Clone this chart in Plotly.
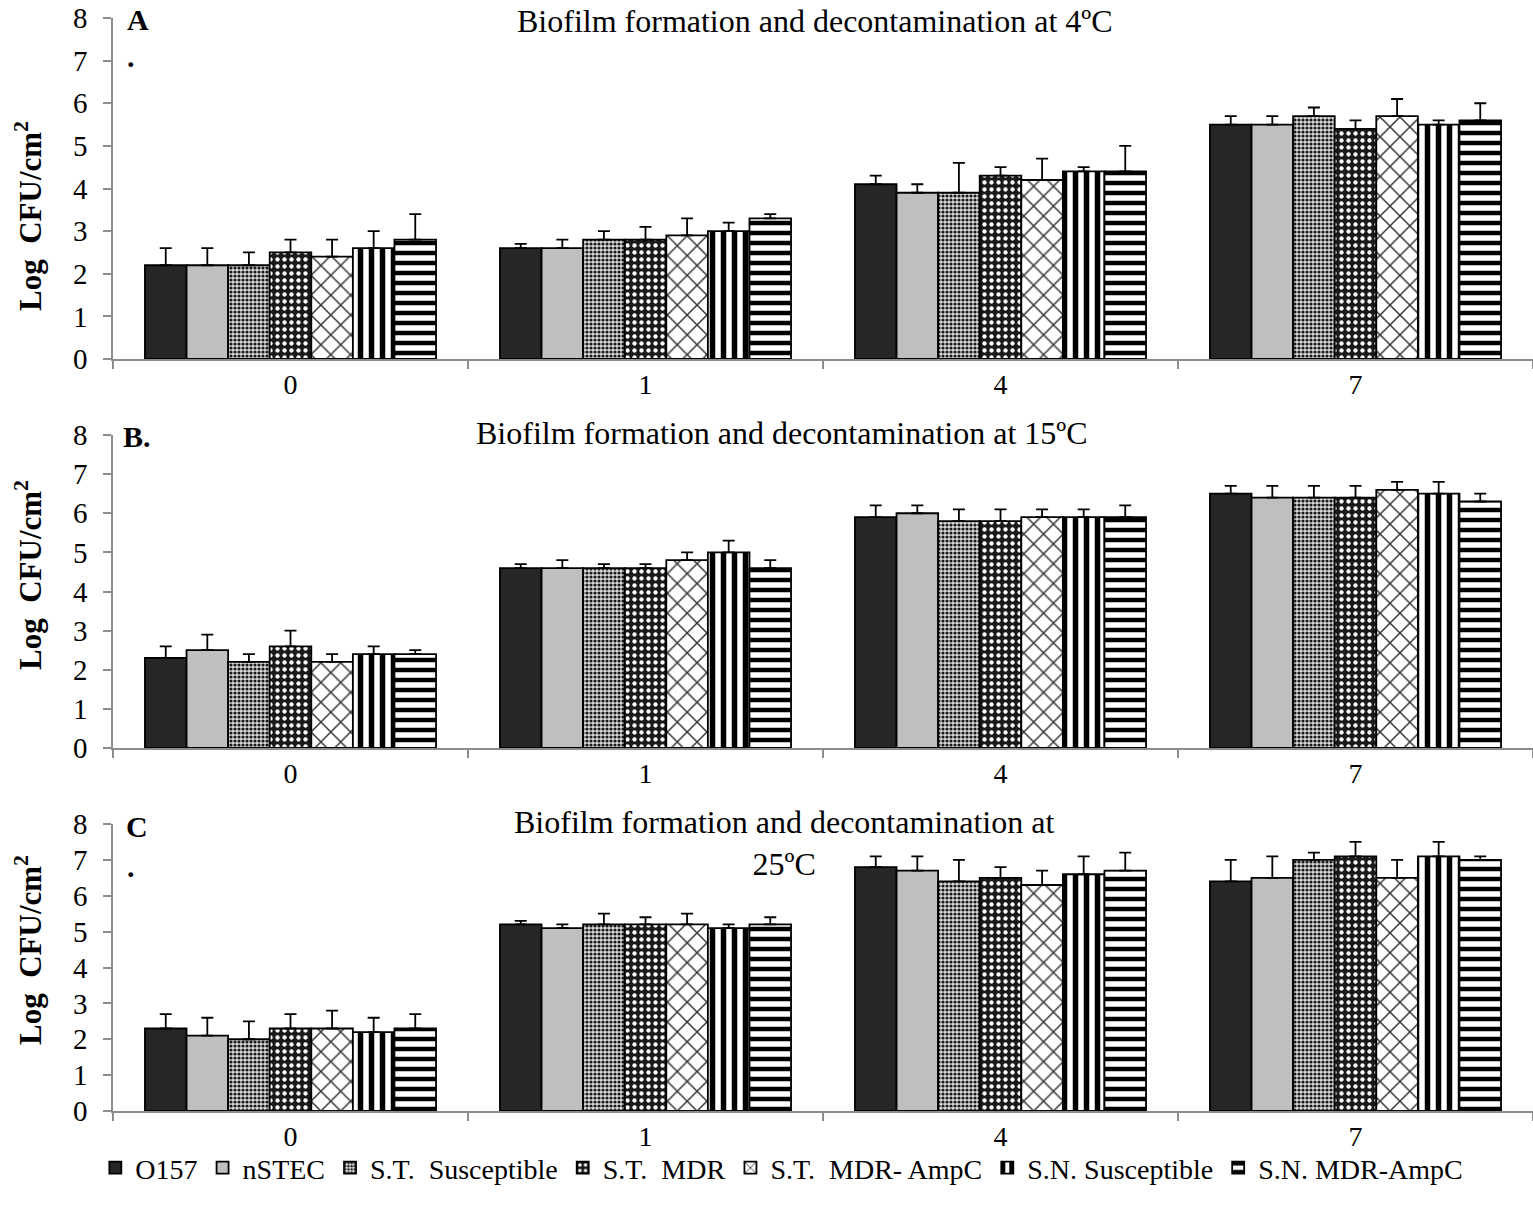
import plotly.graph_objects as go

W, H = 1533, 1217

days = ["0", "1", "4", "7"]
series = ["O157", "nSTEC", "S.T.  Susceptible", "S.T.  MDR", "S.T.  MDR- AmpC",
          "S.N. Susceptible", "S.N. MDR-AmpC"]

# Panel A: 4 C  (one list per strain, values for days 0,1,4,7)
mean_4C = [[2.2, 2.6, 4.1, 5.5], [2.2, 2.6, 3.9, 5.5], [2.2, 2.8, 3.9, 5.7], [2.5, 2.8, 4.3, 5.4],
           [2.4, 2.9, 4.2, 5.7], [2.6, 3.0, 4.4, 5.5], [2.8, 3.3, 4.4, 5.6]]
err_4C = [[0.4, 0.1, 0.2, 0.2], [0.4, 0.2, 0.2, 0.2], [0.3, 0.2, 0.7, 0.2], [0.3, 0.3, 0.2, 0.2],
          [0.4, 0.4, 0.5, 0.4], [0.4, 0.2, 0.1, 0.1], [0.6, 0.1, 0.6, 0.4]]
# Panel B: 15 C
mean_15C = [[2.3, 4.6, 5.9, 6.5], [2.5, 4.6, 6.0, 6.4], [2.2, 4.6, 5.8, 6.4], [2.6, 4.6, 5.8, 6.4],
            [2.2, 4.8, 5.9, 6.6], [2.4, 5.0, 5.9, 6.5], [2.4, 4.6, 5.9, 6.3]]
err_15C = [[0.3, 0.1, 0.3, 0.2], [0.4, 0.2, 0.2, 0.3], [0.2, 0.1, 0.3, 0.3], [0.4, 0.1, 0.3, 0.3],
           [0.2, 0.2, 0.2, 0.2], [0.2, 0.3, 0.2, 0.3], [0.1, 0.2, 0.3, 0.2]]
# Panel C: 25 C
mean_25C = [[2.3, 5.2, 6.8, 6.4], [2.1, 5.1, 6.7, 6.5], [2.0, 5.2, 6.4, 7.0], [2.3, 5.2, 6.5, 7.1],
            [2.3, 5.2, 6.3, 6.5], [2.2, 5.1, 6.6, 7.1], [2.3, 5.2, 6.7, 7.0]]
err_25C = [[0.4, 0.1, 0.3, 0.6], [0.5, 0.1, 0.4, 0.6], [0.5, 0.3, 0.6, 0.2], [0.4, 0.2, 0.3, 0.4],
           [0.5, 0.3, 0.4, 0.5], [0.4, 0.1, 0.5, 0.4], [0.4, 0.2, 0.5, 0.1]]

titles = ["Biofilm formation and decontamination at 4ºC",
          "Biofilm formation and decontamination at 15ºC",
          "Biofilm formation and decontamination at<br>25ºC"]
panel_labels = ["A", "B.", "C"]

FONT = "Liberation Serif, Times New Roman, serif"

styles = [
    dict(color="#262626"),
    dict(color="#bfbfbf"),
    dict(color="#8c8c8c", pattern=dict(shape=".", fgcolor="#1a1a1a", bgcolor="#d9d9d9", size=4, solidity=0.5, fillmode="replace")),
    dict(color="#303030", pattern=dict(shape=".", fgcolor="#ffffff", bgcolor="#1a1a1a", size=7, solidity=0.3, fillmode="replace")),
    dict(color="#ffffff", pattern=dict(shape="x", fgcolor="#333333", bgcolor="#ffffff", size=14, solidity=0.2, fillmode="replace")),
    dict(color="#ffffff", pattern=dict(shape="|", fgcolor="#000000", bgcolor="#ffffff", size=11, solidity=0.5, fillmode="replace")),
    dict(color="#ffffff", pattern=dict(shape="-", fgcolor="#000000", bgcolor="#ffffff", size=10, solidity=0.45, fillmode="replace")),
]


def px(x):
    return x / W


def py(y):
    return 1 - y / H


# plot-area pixel geometry: (top of y=8, y=0 baseline)
panels = [(18, 359), (435, 748), (824, 1111)]
data_sets = [(mean_4C, err_4C), (mean_15C, err_15C), (mean_25C, err_25C)]

fig = go.Figure()
for p, (means, errs) in enumerate(data_sets):
    xa = "x" if p == 0 else f"x{p+1}"
    ya = "y" if p == 0 else f"y{p+1}"
    for s, name in enumerate(series):
        marker = dict(styles[s])
        marker["line"] = dict(color="black", width=1.8)
        fig.add_trace(go.Bar(
            x=days, y=means[s], name=name, legendgroup=name, showlegend=(p == 0),
            marker=marker, xaxis=xa, yaxis=ya,
            error_y=dict(type="data", array=errs[s], arrayminus=[0] * len(days), symmetric=False,
                         color="black", thickness=1.8, width=6),
        ))

layout = dict(
    width=W, height=H, margin=dict(l=0, r=0, t=0, b=0, autoexpand=False),
    paper_bgcolor="white", plot_bgcolor="white",
    barmode="group", bargap=0.18, bargroupgap=0,
    font=dict(family=FONT, size=28, color="black"),
    legend=dict(orientation="h", x=0.51, xanchor="center", y=py(1168), yanchor="middle",
                font=dict(family=FONT, size=28, color="black"), itemwidth=30,
                bgcolor="rgba(0,0,0,0)", traceorder="normal"),
)

annotations = []
for p, (top, base) in enumerate(panels):
    sx = "" if p == 0 else str(p + 1)
    layout["xaxis" + sx] = dict(
        domain=[px(113), 1.0], anchor="y" + sx, type="category",
        showline=True, linecolor="#8c8c8c", linewidth=1.5,
        ticks="outside", tickson="boundaries", ticklen=8, tickcolor="#8c8c8c", tickwidth=1.5,
        showgrid=False, zeroline=False, tickfont=dict(size=28, family=FONT, color="black"),
    )
    layout["yaxis" + sx] = dict(
        domain=[py(base), py(top)], anchor="x" + sx, range=[0, 8], dtick=1,
        showline=True, linecolor="#8c8c8c", linewidth=1.5,
        ticks="outside", ticklen=8, tickcolor="#8c8c8c", tickwidth=1.5,
        showgrid=False, zeroline=False, ticklabelstandoff=10,
        tickfont=dict(size=29, family=FONT, color="black"),
    )

# y-axis titles
for yc in [216, 575, 950]:
    annotations.append(dict(xref="paper", yref="paper", x=px(28), y=py(yc), showarrow=False,
                            text="<b>Log  CFU/cm<sup>2</sup></b>", textangle=-90,
                            font=dict(size=31, family=FONT, color="black"),
                            xanchor="center", yanchor="middle"))
# panel letters
for (lx, ly), lab in zip([(138, 19), (137, 437), (137, 826)], panel_labels):
    annotations.append(dict(xref="paper", yref="paper", x=px(lx), y=py(ly), showarrow=False,
                            text=f"<b>{lab}</b>", font=dict(size=30, family=FONT, color="black"),
                            xanchor="center", yanchor="middle"))
for dy in [56, 866]:
    annotations.append(dict(xref="paper", yref="paper", x=px(131), y=py(dy), showarrow=False,
                            text="<b>.</b>", font=dict(size=30, family=FONT, color="black"),
                            xanchor="center", yanchor="middle"))
# titles
annotations.append(dict(xref="paper", yref="paper", x=px(815), y=py(21), showarrow=False,
                        text=titles[0], font=dict(size=32, family=FONT, color="black"),
                        xanchor="center", yanchor="middle"))
annotations.append(dict(xref="paper", yref="paper", x=px(782), y=py(433), showarrow=False,
                        text=titles[1], font=dict(size=32, family=FONT, color="black"),
                        xanchor="center", yanchor="middle"))
annotations.append(dict(xref="paper", yref="paper", x=px(784), y=py(843), showarrow=False,
                        text=titles[2], font=dict(size=32, family=FONT, color="black"),
                        xanchor="center", yanchor="middle", align="center"))
layout["annotations"] = annotations

fig.update_layout(**layout)
fig.write_html("out.html")
